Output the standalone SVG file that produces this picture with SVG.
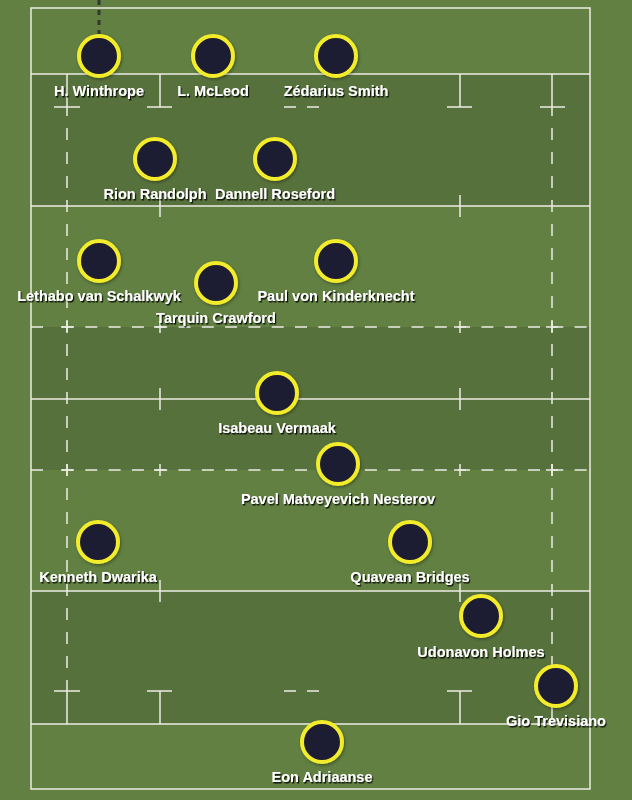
<svg xmlns="http://www.w3.org/2000/svg" width="632" height="800" viewBox="0 0 632 800">
<defs>
<style>
.ln{stroke:#ecece4;stroke-width:1.5;fill:none}
.dash{stroke-dasharray:12 12}
.hdash{stroke-dasharray:12 11.3}
.band{fill:#57713c}
.player circle{fill:#1e1c30;stroke:#f3ec2a;stroke-width:4;filter:url(#cs)}
.player text{font-family:"Liberation Sans",Arial,sans-serif;font-weight:bold;font-size:14.5px;fill:#ffffff;text-anchor:middle;filter:url(#ts)}
.kick{stroke:#2b2b2b;stroke-width:3;stroke-dasharray:5 5;fill:none;opacity:0.85}
</style>
<filter id="ts" x="-10%" y="-30%" width="120%" height="160%">
<feDropShadow dx="1.2" dy="1.5" stdDeviation="0.7" flood-color="#000" flood-opacity="0.85"/>
</filter>
<filter id="cs" x="-30%" y="-30%" width="160%" height="160%">
<feDropShadow dx="1" dy="1.5" stdDeviation="1.5" flood-color="#000" flood-opacity="0.35"/>
</filter>
</defs>
<rect width="632" height="800" fill="#618042"/>
<g id="bands">
<rect class="band" x="31" y="74" width="559" height="132"/>
<rect class="band" x="31" y="327" width="559" height="143"/>
<rect class="band" x="31" y="591" width="559" height="133"/>
</g>
<g id="markings">
<rect class="ln" x="31" y="8" width="559" height="781"/>
<line class="ln" x1="31" y1="74" x2="590" y2="74"/>
<line class="ln" x1="31" y1="724" x2="590" y2="724"/>
<line class="ln" x1="31" y1="206" x2="590" y2="206"/>
<line class="ln" x1="31" y1="591" x2="590" y2="591"/>
<line class="ln" x1="31" y1="399" x2="590" y2="399"/>
<line class="ln hdash" x1="62" y1="327" x2="590" y2="327"/>
<line class="ln" x1="31" y1="327" x2="43" y2="327"/>
<line class="ln hdash" x1="62" y1="470" x2="590" y2="470"/>
<line class="ln" x1="31" y1="470" x2="43" y2="470"/>
<!-- 5m vertical lines -->
<path class="ln" d="M67 74V116M67 680V724M552 74V116M552 680V724"/>
<path class="ln dash" d="M67 128V670M552 128V670"/>
<!-- 5m marks near try lines -->
<path class="ln" d="M54 107H80M540 107H565M147 107H172M447 107H472M160 74V107M460 74V107M284 107H296M307 107H319"/>
<path class="ln" d="M54 691H80M540 691H565M147 691H172M447 691H472M160 691V724M460 691V724M284 691H296M307 691H319"/>
<!-- 15m ticks on 22 and halfway -->
<path class="ln" d="M160 195V217M460 195V217M160 388V410M460 388V410M160 580V602M460 580V602"/>
<!-- crosses on 10m lines -->
<path class="ln" d="M61 327H73M67 321V333M154 327H166M160 321V333M454 327H466M460 321V333M546 327H558M552 321V333"/>
<path class="ln" d="M61 470H73M67 464V476M154 470H166M160 464V476M454 470H466M460 464V476M546 470H558M552 464V476"/>
</g>
<g id="connectors">
<line class="kick" x1="99" y1="0" x2="99" y2="34"/>
</g>
<g id="p1" class="player"><circle cx="99" cy="56" r="20"/><text x="99" y="96">H. Winthrope</text></g>
<g id="p2" class="player"><circle cx="213" cy="56" r="20"/><text x="213" y="96">L. McLeod</text></g>
<g id="p3" class="player"><circle cx="336" cy="56" r="20"/><text x="336" y="96">Zédarius Smith</text></g>
<g id="p4" class="player"><circle cx="155" cy="159" r="20"/><text x="155" y="199">Rion Randolph</text></g>
<g id="p5" class="player"><circle cx="275" cy="159" r="20"/><text x="275" y="199">Dannell Roseford</text></g>
<g id="p6" class="player"><circle cx="99" cy="261" r="20"/><text x="99" y="301">Lethabo van Schalkwyk</text></g>
<g id="p7" class="player"><circle cx="216" cy="283" r="20"/><text x="216" y="323">Tarquin Crawford</text></g>
<g id="p8" class="player"><circle cx="336" cy="261" r="20"/><text x="336" y="301">Paul von Kinderknecht</text></g>
<g id="p9" class="player"><circle cx="277" cy="393" r="20"/><text x="277" y="433">Isabeau Vermaak</text></g>
<g id="p10" class="player"><circle cx="338" cy="464" r="20"/><text x="338" y="504">Pavel Matveyevich Nesterov</text></g>
<g id="p11" class="player"><circle cx="98" cy="542" r="20"/><text x="98" y="582">Kenneth Dwarika</text></g>
<g id="p12" class="player"><circle cx="410" cy="542" r="20"/><text x="410" y="582">Quavean Bridges</text></g>
<g id="p13" class="player"><circle cx="481" cy="616" r="20"/><text x="481" y="657">Udonavon Holmes</text></g>
<g id="p14" class="player"><circle cx="556" cy="686" r="20"/><text x="556" y="726">Gio Trevisiano</text></g>
<g id="p15" class="player"><circle cx="322" cy="742" r="20"/><text x="322" y="782">Eon Adriaanse</text></g>
</svg>
